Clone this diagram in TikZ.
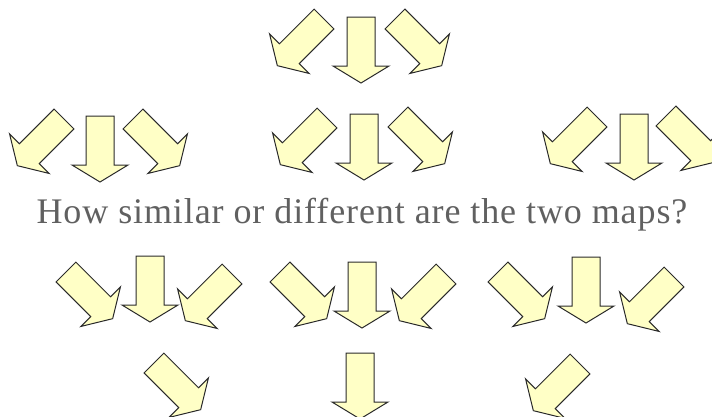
\documentclass[tikz,border=0pt]{standalone}
\usepackage{fontspec}
\setmainfont{Liberation Serif}
\usepackage{xcolor}
\usepackage{tikz}
\definecolor{paleyellow}{HTML}{FFFFC6}
\definecolor{outline}{HTML}{2A2A2A}
\definecolor{bk60}{HTML}{606060}
\tikzset{
  arrowshape/.style={
    draw=outline, fill=paleyellow, line width=1pt, line join=miter
  },
  % block arrow, tail centre at the origin, pointing along +x
  maparrow/.pic={
    \path[arrowshape] (0,-14) -- (49,-14) -- (49,-28) -- (66,0)
      -- (49,28) -- (49,14) -- (0,14) -- cycle;
  },
  questionnode/.style={
    font=\fontsize{36}{42}\selectfont\addfontfeature{LetterSpace=2.5},
    color=bk60, anchor=base, inner sep=0pt
  },
}

\begin{document}
\begin{tikzpicture}[x=1pt, y=-1pt]
  \useasboundingbox (0,0) rectangle (712,416);

  % Top row
  \pic[rotate=-135] (topL) at (324,19) {maparrow};
  \pic[rotate=-90]  (topD) at (361,17) {maparrow};
  \pic[rotate=-45]  (topR) at (395,19) {maparrow};

  % Second row, three groups
  \pic[rotate=-135] (bLL) at (64,119)    {maparrow};
  \pic[rotate=-90]  (bLD) at (100,116)   {maparrow};
  \pic[rotate=-45]  (bLR) at (133,119)   {maparrow};
  \pic[rotate=-135] (bML) at (327,118)   {maparrow};
  \pic[rotate=-90]  (bMD) at (364,114)   {maparrow};
  \pic[rotate=-45]  (bMR) at (398,117)   {maparrow};
  \pic[rotate=-135] (bRL) at (597,117)   {maparrow};
  \pic[rotate=-90]  (bRD) at (634,114)   {maparrow};
  \pic[rotate=-45]  (bRR) at (666,116)   {maparrow};

  % Question
  \node[questionnode] (question) at (362,223) {How similar or different are the two maps?};

  % Third row, three groups
  \pic[rotate=-45]  (cLR) at (66,272)    {maparrow};
  \pic[rotate=-90]  (cLD) at (150,256)   {maparrow};
  \pic[rotate=-135] (cLL) at (232,274)   {maparrow};
  \pic[rotate=-45]  (cMR) at (280,272)   {maparrow};
  \pic[rotate=-90]  (cMD) at (362,262)   {maparrow};
  \pic[rotate=-135] (cML) at (446,274)   {maparrow};
  \pic[rotate=-45]  (cRR) at (498,272)   {maparrow};
  \pic[rotate=-90]  (cRD) at (586,257)   {maparrow};
  \pic[rotate=-135] (cRL) at (674,277)   {maparrow};

  % Bottom row
  \pic[rotate=-45]  (dR) at (154,363)    {maparrow};
  \pic[rotate=-90]  (dD) at (360,353)    {maparrow};
  \pic[rotate=-135] (dL) at (580,364)    {maparrow};
\end{tikzpicture}
\end{document}
